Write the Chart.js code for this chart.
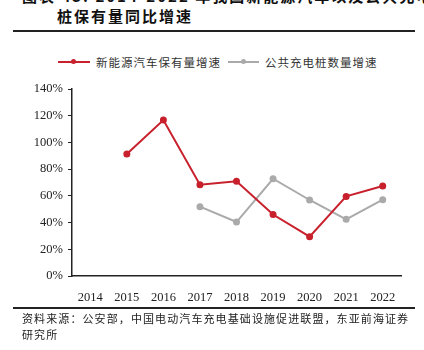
<!DOCTYPE html>
<html>
<head>
<meta charset="utf-8">
<script src="https://cdn.jsdelivr.net/npm/chart.js@4"></script>
<style>
  body { margin: 0; background: #fff; width: 424px; height: 350px; overflow: hidden; position: relative; }
  .title { position: absolute; left: 57px; font-family: "Noto Sans CJK SC"; font-weight: bold; font-size: 15px; letter-spacing: 2px; color: #111; white-space: nowrap; }
  .rule { position: absolute; left: 13px; width: 402px; height: 1.5px; background: #222; }
  .legend { position: absolute; top: 54px; font-family: "Noto Sans CJK SC"; font-size: 11.5px; letter-spacing: 1px; color: #333; white-space: nowrap; }
  .swatch { position: absolute; top: 61px; height: 2px; }
  .dot { position: absolute; top: 59px; width: 5px; height: 5px; border-radius: 50%; }
  .foot { position: absolute; left: 22px; font-family: "Noto Sans CJK SC"; font-size: 11px; letter-spacing: 1.1px; color: #222; white-space: nowrap; }
  #c { position: absolute; left: 0; top: 0; }
</style>
</head>
<body>
<div class="title" style="top:-15px;left:22px">图表 43: 2014-2022 年我国新能源汽车以及公共充电</div>
<div class="title" style="top:5px">桩保有量同比增速</div>
<div class="rule" style="top:30px"></div>

<div class="swatch" style="left:58px;width:32px;background:#c8202c"></div>
<div class="dot" style="left:71px;background:#c8202c"></div>
<div class="legend" style="left:96px">新能源汽车保有量增速</div>
<div class="swatch" style="left:228px;width:31px;background:#aaaaaa"></div>
<div class="dot" style="left:241px;background:#aaaaaa"></div>
<div class="legend" style="left:265px">公共充电桩数量增速</div>

<canvas id="c" width="424" height="350"></canvas>

<div class="rule" style="top:307px"></div>
<div class="foot" style="top:310px">资料来源：公安部，中国电动汽车充电基础设施促进联盟，东亚前海证券</div>
<div class="foot" style="top:326px">研究所</div>

<script>
const years = ['2014', '2015', '2016', '2017', '2018', '2019', '2020', '2021', '2022'];
const evGrowth = [null, 91.3, 116.8, 68.4, 71.0, 46.0, 29.4, 59.6, 67.4];
const pileGrowth = [null, null, null, 51.9, 40.4, 72.8, 56.9, 42.4, 57.1];
const yTicks = [0, 20, 40, 60, 80, 100, 120, 140];

const ctx = document.getElementById('c').getContext('2d');
new Chart(ctx, {
  type: 'line',
  data: {
    labels: years,
    datasets: [{
      label: '新能源汽车保有量增速',
      data: evGrowth,
      borderColor: '#c8202c',
      backgroundColor: '#c8202c',
      borderWidth: 2,
      pointRadius: 2.5,
      tension: 0
    }, {
      label: '公共充电桩数量增速',
      data: pileGrowth,
      borderColor: '#aaaaaa',
      backgroundColor: '#aaaaaa',
      borderWidth: 2,
      pointRadius: 2.5,
      tension: 0
    }]
  },
  options: {
    responsive: false,
    animation: false,
    layout: { padding: { left: 0, top: 89, right: 23, bottom: 0 } },
    plugins: { legend: { display: false }, tooltip: { enabled: false } },
    scales: {
      x: {
        offset: true,
        grid: { display: false },
        border: { display: true, color: '#222', width: 1.5 },
        ticks: { color: '#222', padding: 6, maxRotation: 0, font: { family: 'Liberation Serif', size: 12.5 } },
        afterFit: (scale) => { scale.height = 74; }
      },
      y: {
        min: 0,
        max: 140,
        afterBuildTicks: (scale) => { scale.ticks = yTicks.map(v => ({ value: v })); },
        grid: { drawOnChartArea: false, tickLength: 4, color: '#222' },
        border: { display: true, color: '#222', width: 1.5 },
        ticks: { color: '#222', padding: 5, font: { family: 'Liberation Serif', size: 12.5 }, callback: v => v + '%' },
        afterFit: (scale) => { scale.width = 72; }
      }
    }
  }
});
</script>
</body>
</html>
